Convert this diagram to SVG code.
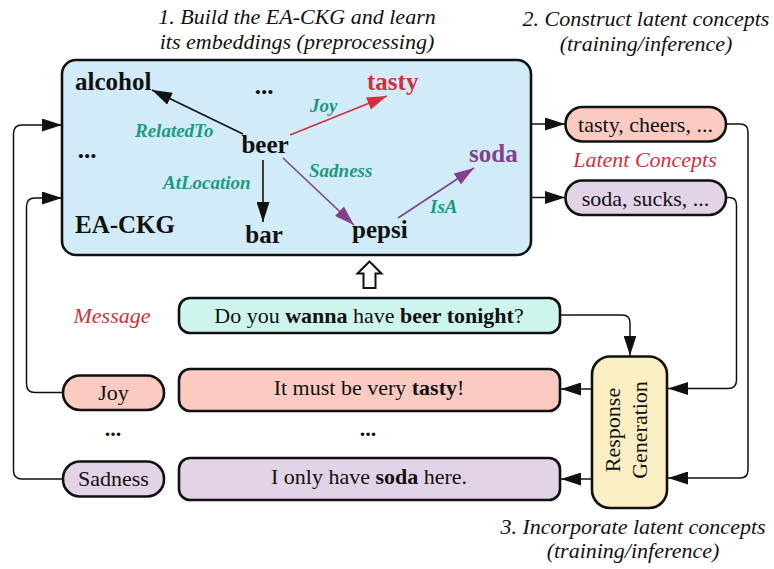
<svg xmlns="http://www.w3.org/2000/svg" width="774" height="569" viewBox="0 0 774 569">
  <style>
    text { font-family: "Liberation Serif", "Times New Roman", serif; fill: #111; }
    .title { font-size: 22px; font-style: italic; text-anchor: middle; }
    .node { font-size: 25px; font-weight: bold; }
    .rel { font-size: 19px; font-weight: bold; font-style: italic; fill: #1d9a7e; }
    .body { font-size: 22px; text-anchor: middle; }
    .red { fill: #d1303d; }
    .purple { fill: #83408d; }
    .box { stroke: #111; stroke-width: 2.6; }
    .conn { fill: none; stroke: #111; stroke-width: 1.5; }
  </style>
  <defs>
    <marker id="ah" markerUnits="userSpaceOnUse" markerWidth="20" markerHeight="13" refX="20" refY="6.5" orient="auto">
      <path d="M0,0 L20,6.5 L0,13 z" fill="#111"/>
    </marker>
    <marker id="ahRed" markerUnits="userSpaceOnUse" markerWidth="20" markerHeight="13" refX="20" refY="6.5" orient="auto">
      <path d="M0,0 L20,6.5 L0,13 z" fill="#d1303d"/>
    </marker>
    <marker id="ahPurple" markerUnits="userSpaceOnUse" markerWidth="20" markerHeight="13" refX="20" refY="6.5" orient="auto">
      <path d="M0,0 L20,6.5 L0,13 z" fill="#83408d"/>
    </marker>
  </defs>

  <!-- step captions -->
  <text class="title" x="297" y="24">1. Build the EA-CKG and learn</text>
  <text class="title" x="297" y="49">its embeddings (preprocessing)</text>
  <text class="title" x="646" y="26">2. Construct latent concepts</text>
  <text class="title" x="646" y="51">(training/inference)</text>
  <text class="title" x="633" y="534">3. Incorporate latent concepts</text>
  <text class="title" x="633" y="558">(training/inference)</text>

  <!-- knowledge graph panel -->
  <g id="ea-ckg">
    <rect class="box" x="62" y="60" width="469" height="195" rx="14" fill="#d1ebf9"/>
    <g id="kg-edges">
      <line x1="243" y1="134" x2="152" y2="90" stroke="#111" stroke-width="1.6" marker-end="url(#ah)"/>
      <line x1="263" y1="160" x2="263" y2="222" stroke="#111" stroke-width="1.6" marker-end="url(#ah)"/>
      <line x1="290" y1="135" x2="387" y2="96" stroke="#d1303d" stroke-width="1.6" marker-end="url(#ahRed)"/>
      <line x1="283" y1="158" x2="354" y2="225" stroke="#83408d" stroke-width="1.6" marker-end="url(#ahPurple)"/>
      <line x1="398" y1="218" x2="474" y2="168" stroke="#83408d" stroke-width="1.6" marker-end="url(#ahPurple)"/>
    </g>
    <text class="node" x="75" y="90">alcohol</text>
    <text class="node" x="264" y="94" text-anchor="middle">...</text>
    <text class="node" x="87" y="158" text-anchor="middle">...</text>
    <text class="node" x="265" y="153" text-anchor="middle">beer</text>
    <text class="node" x="75" y="233">EA-CKG</text>
    <text class="node" x="264" y="243" text-anchor="middle">bar</text>
    <text class="node red" x="367" y="90">tasty</text>
    <text class="node purple" x="469" y="162">soda</text>
    <text class="node" x="352" y="238">pepsi</text>
    <text class="rel" x="135" y="137">RelatedTo</text>
    <text class="rel" x="163" y="189">AtLocation</text>
    <text class="rel" x="310" y="112">Joy</text>
    <text class="rel" x="309" y="177">Sadness</text>
    <text class="rel" x="430" y="213">IsA</text>
  </g>

  <!-- hollow arrow: message feeds the graph lookup -->
  <path d="M369.5,261.5 L381.5,273.5 L375.5,273.5 L375.5,288 L363.5,288 L363.5,273.5 L357.5,273.5 z" fill="#fff" stroke="#111" stroke-width="2"/>

  <g id="latent-joy">
    <rect class="box" x="565.5" y="107" width="160.5" height="34.5" rx="17" fill="#fbcac1"/>
    <text class="body" x="645.5" y="132">tasty, cheers, ...</text>
  </g>
  <text class="body red" x="645" y="167" font-style="italic">Latent Concepts</text>
  <g id="latent-sadness">
    <rect class="box" x="565.5" y="180.5" width="160.5" height="34.5" rx="17" fill="#e2d3e6"/>
    <text class="body" x="645.5" y="205.5">soda, sucks, ...</text>
  </g>

  <text class="body red" x="112" y="323" font-style="italic">Message</text>
  <g id="message">
    <rect class="box" x="179" y="298" width="381" height="35" rx="11" fill="#cdf5ee"/>
    <text class="body" x="369" y="323">Do you <tspan font-weight="bold">wanna</tspan> have <tspan font-weight="bold">beer tonight</tspan>?</text>
  </g>

  <g id="emotion-joy">
    <rect class="box" x="63" y="375.5" width="101" height="34.5" rx="17" fill="#fbcac1"/>
    <text class="body" x="113.5" y="400">Joy</text>
  </g>
  <g id="response-joy">
    <rect class="box" x="179" y="369" width="381" height="42" rx="11" fill="#fbcac1"/>
    <text class="body" x="369" y="395">It must be very <tspan font-weight="bold">tasty</tspan>!</text>
  </g>

  <text class="body" x="113" y="436" font-weight="bold">...</text>
  <text class="body" x="368" y="436" font-weight="bold">...</text>

  <g id="emotion-sadness">
    <rect class="box" x="63" y="461.5" width="101" height="35" rx="17" fill="#e2d3e6"/>
    <text class="body" x="113.5" y="486">Sadness</text>
  </g>
  <g id="response-sadness">
    <rect class="box" x="179" y="458" width="381" height="42" rx="11" fill="#e2d3e6"/>
    <text class="body" x="369" y="484">I only have <tspan font-weight="bold">soda</tspan> here.</text>
  </g>

  <g id="response-generation">
    <rect class="box" x="592" y="356.5" width="75" height="151.5" rx="18" fill="#fbf0c3"/>
    <g transform="translate(629.5,430) rotate(-90)">
      <text class="body" x="0" y="-9.5">Response</text>
      <text class="body" x="0" y="17">Generation</text>
    </g>
  </g>

  <!-- connectors -->
  <g id="connectors">
    <path class="conn" d="M531,124 H565" marker-end="url(#ah)"/>
    <path class="conn" d="M531,197.5 H565" marker-end="url(#ah)"/>
    <path class="conn" d="M726,124 H740 Q748,124 748,132 V470 Q748,478 740,478 H668" marker-end="url(#ah)"/>
    <path class="conn" d="M726,197.5 H729 Q736.5,197.5 736.5,205 V380 Q736.5,388.5 728,388.5 H668" marker-end="url(#ah)"/>
    <path class="conn" d="M560,315 H622 Q630,315 630,323 V355.5" marker-end="url(#ah)"/>
    <path class="conn" d="M592,389 H561" marker-end="url(#ah)"/>
    <path class="conn" d="M592,479 H561" marker-end="url(#ah)"/>
    <path class="conn" d="M63,392.5 H35 Q26.5,392.5 26.5,384 V206.5 Q26.5,198 35,198 H62" marker-end="url(#ah)"/>
    <path class="conn" d="M63,479 H22 Q13.5,479 13.5,470.5 V133.5 Q13.5,125 22,125 H62" marker-end="url(#ah)"/>
  </g>
</svg>
